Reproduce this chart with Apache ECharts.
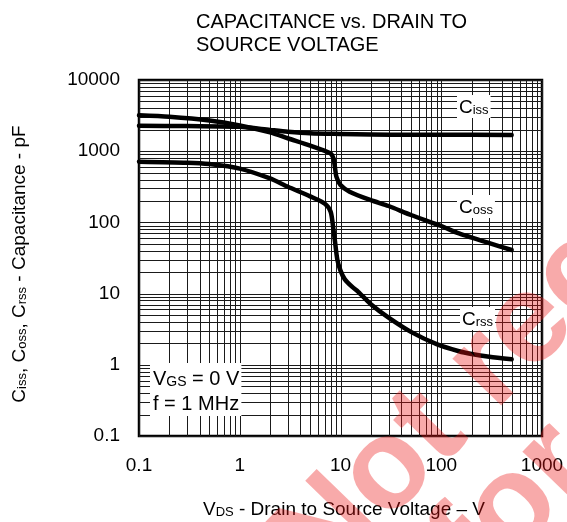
<!DOCTYPE html>
<html>
<head>
<meta charset="utf-8">
<script src="https://cdn.jsdelivr.net/npm/echarts@6/dist/echarts.min.js"></script>
<style>
  html, body { margin: 0; padding: 0; background: #fff; }
  #chart { width: 567px; height: 522px; }
</style>
</head>
<body>
<div id="chart"></div>
<script>
// Drain-source voltage (V) and capacitance (pF) for each curve
const vdsCiss = [0.1, 0.3, 1, 2, 3, 5, 10, 20, 50, 100, 500];
const ciss    = [2280, 2250, 2200, 1990, 1880, 1790, 1750, 1720, 1700, 1700, 1690];

const vdsCoss = [0.1, 0.2, 0.5, 1, 2, 3, 5, 7, 8, 8.5, 8.8, 9.1, 10, 12.3, 20, 30, 50, 100, 150, 300, 500];
const coss    = [3200, 3050, 2700, 2300, 1840, 1520, 1200, 1010, 930, 800, 600, 440, 335, 270, 205, 170, 127, 89, 70, 51, 41];

const vdsCrss = [0.1, 0.3, 0.5, 1, 2, 3, 5, 7, 8, 8.5, 8.8, 9.3, 10, 11, 13, 15, 20, 30, 50, 90, 150, 200, 300, 500];
const crss    = [713, 690, 660, 570, 414, 317, 232, 183, 140, 80, 55, 30, 21, 16, 12.5, 10.6, 7.1, 4.6, 2.9, 1.95, 1.55, 1.42, 1.3, 1.2];

// Axis tick labels
const xTickLabels = ['0.1', '1', '10', '100', '1000'];
const yTickLabels = ['0.1', '1', '10', '100', '1000', '10000'];

// Log grid values: 1..9 in every decade
function logGrid(lo, hi) {
  const out = [];
  for (let d = lo; d < hi * 0.999; d *= 10) {
    for (let k = 1; k <= 9; k++) out.push(Number((d * k).toPrecision(6)));
  }
  out.push(hi);
  return out;
}
const xGrid = logGrid(0.1, 1000);
const yGrid = logGrid(0.1, 10000);

const zip = (xs, ys) => xs.map((x, i) => [x, ys[i]]);

const FONT = '"Liberation Sans", Arial, Helvetica, sans-serif';
const GRID_COLOR = '#1a1a1a';

function vLine(params, api) {
  const cs = params.coordSys;
  const x = Math.round(api.coord([api.value(0), 1])[0]) + 0.5;
  return { type: 'line', silent: true,
    shape: { x1: x, y1: cs.y, x2: x, y2: cs.y + cs.height },
    style: { stroke: GRID_COLOR, lineWidth: 1 } };
}
function hLine(params, api) {
  const cs = params.coordSys;
  const y = Math.round(api.coord([1, api.value(1)])[1]) + 0.5;
  return { type: 'line', silent: true,
    shape: { x1: cs.x, y1: y, x2: cs.x + cs.width, y2: y },
    style: { stroke: GRID_COLOR, lineWidth: 1 } };
}

const curveStyle = {
  type: 'line', showSymbol: false, smooth: 0.25,
  lineStyle: { color: '#000', width: 4.5, cap: 'round', join: 'round' }, z: 5, silent: true
};

// rich-text styles: normal + subscript with matching baselines
const rich = (fn, fs, ln) => ({
  n: { fontSize: fn, fontFamily: FONT, fill: '#000', color: '#000', lineHeight: ln, verticalAlign: 'bottom' },
  s: { fontSize: fs, fontFamily: FONT, fill: '#000', color: '#000', lineHeight: ln - 0.72 * (fn - fs), verticalAlign: 'bottom' }
});

const chart = echarts.init(document.getElementById('chart'), null, { renderer: 'canvas' });
chart.setOption({
  animation: false,
  backgroundColor: '#fff',
  title: {
    text: 'CAPACITANCE vs. DRAIN TO\nSOURCE VOLTAGE',
    left: 191, top: 6,
    textStyle: { fontFamily: FONT, fontSize: 20, fontWeight: 'normal', color: '#000', lineHeight: 23 }
  },
  grid: {
    left: 139, right: 25, top: 80, bottom: 86,
    show: true, borderColor: '#000', borderWidth: 2.5, backgroundColor: '#fff'
  },
  xAxis: {
    type: 'log', logBase: 10, min: 0.1, max: 1000,
    axisLine: { show: false }, axisTick: { show: false }, splitLine: { show: false },
    axisLabel: {
      fontFamily: FONT, fontSize: 19, color: '#000', margin: 20,
      formatter: (v, i) => xTickLabels[i]
    }
  },
  yAxis: {
    type: 'log', logBase: 10, min: 0.1, max: 10000,
    axisLine: { show: false }, axisTick: { show: false }, splitLine: { show: false },
    axisLabel: {
      fontFamily: FONT, fontSize: 19, color: '#000', margin: 19,
      formatter: (v, i) => yTickLabels[i]
    }
  },
  series: [
    { type: 'custom', renderItem: vLine, data: xGrid.map(v => [v, 1]), z: 1, silent: true },
    { type: 'custom', renderItem: hLine, data: yGrid.map(v => [1, v]), z: 1, silent: true },
    Object.assign({ name: 'Ciss', data: zip(vdsCiss, ciss) }, curveStyle),
    Object.assign({ name: 'Coss', data: zip(vdsCoss, coss) }, curveStyle),
    Object.assign({ name: 'Crss', data: zip(vdsCrss, crss) }, curveStyle)
  ],
  graphic: [
    { type: 'text', x: 457, y: 95, z: 10, silent: true,
      style: { text: '{n|C}{s|iss}', rich: rich(19, 13, 21), backgroundColor: '#fff', padding: [1, 2, 1, 2] } },
    { type: 'text', x: 457, y: 195, z: 10, silent: true,
      style: { text: '{n|C}{s|oss}', rich: rich(19, 13, 21), backgroundColor: '#fff', padding: [1, 2, 1, 2] } },
    { type: 'text', x: 460, y: 307, z: 10, silent: true,
      style: { text: '{n|C}{s|rss}', rich: rich(19, 13, 21), backgroundColor: '#fff', padding: [1, 2, 1, 2] } },
    { type: 'text', x: 150, y: 363, z: 10, silent: true,
      style: { text: '{n|V}{s|GS}{n| = 0 V}\n{n|f = 1 MHz}', rich: rich(20, 14, 25), backgroundColor: '#fff', padding: [1, 2, 2, 3] } },
    { type: 'text', x: 344, y: 508, z: 10, silent: true,
      style: { text: '{n|V}{s|DS}{n| - Drain to Source Voltage \u2013 V}', rich: rich(19, 13, 22),
               align: 'center', verticalAlign: 'middle' } },
    { type: 'text', x: 18, y: 264, rotation: Math.PI / 2, z: 10, silent: true,
      style: { text: '{n|C}{s|iss}{n|, C}{s|oss}{n|, C}{s|rss}{n| - Capacitance - pF}', rich: rich(19, 13, 22),
               align: 'center', verticalAlign: 'middle' } },
    // diagonal notice stamped across the sheet
    { type: 'text', x: 729, y: 203, rotation: 0.8, z: 50, silent: true,
      style: { text: 'Not recommended\nfor new design', font: 'bold 128px ' + FONT,
               fill: 'rgba(236, 20, 20, 0.36)', align: 'center', verticalAlign: 'middle', lineHeight: 115 } }
  ]
});
</script>
</body>
</html>
